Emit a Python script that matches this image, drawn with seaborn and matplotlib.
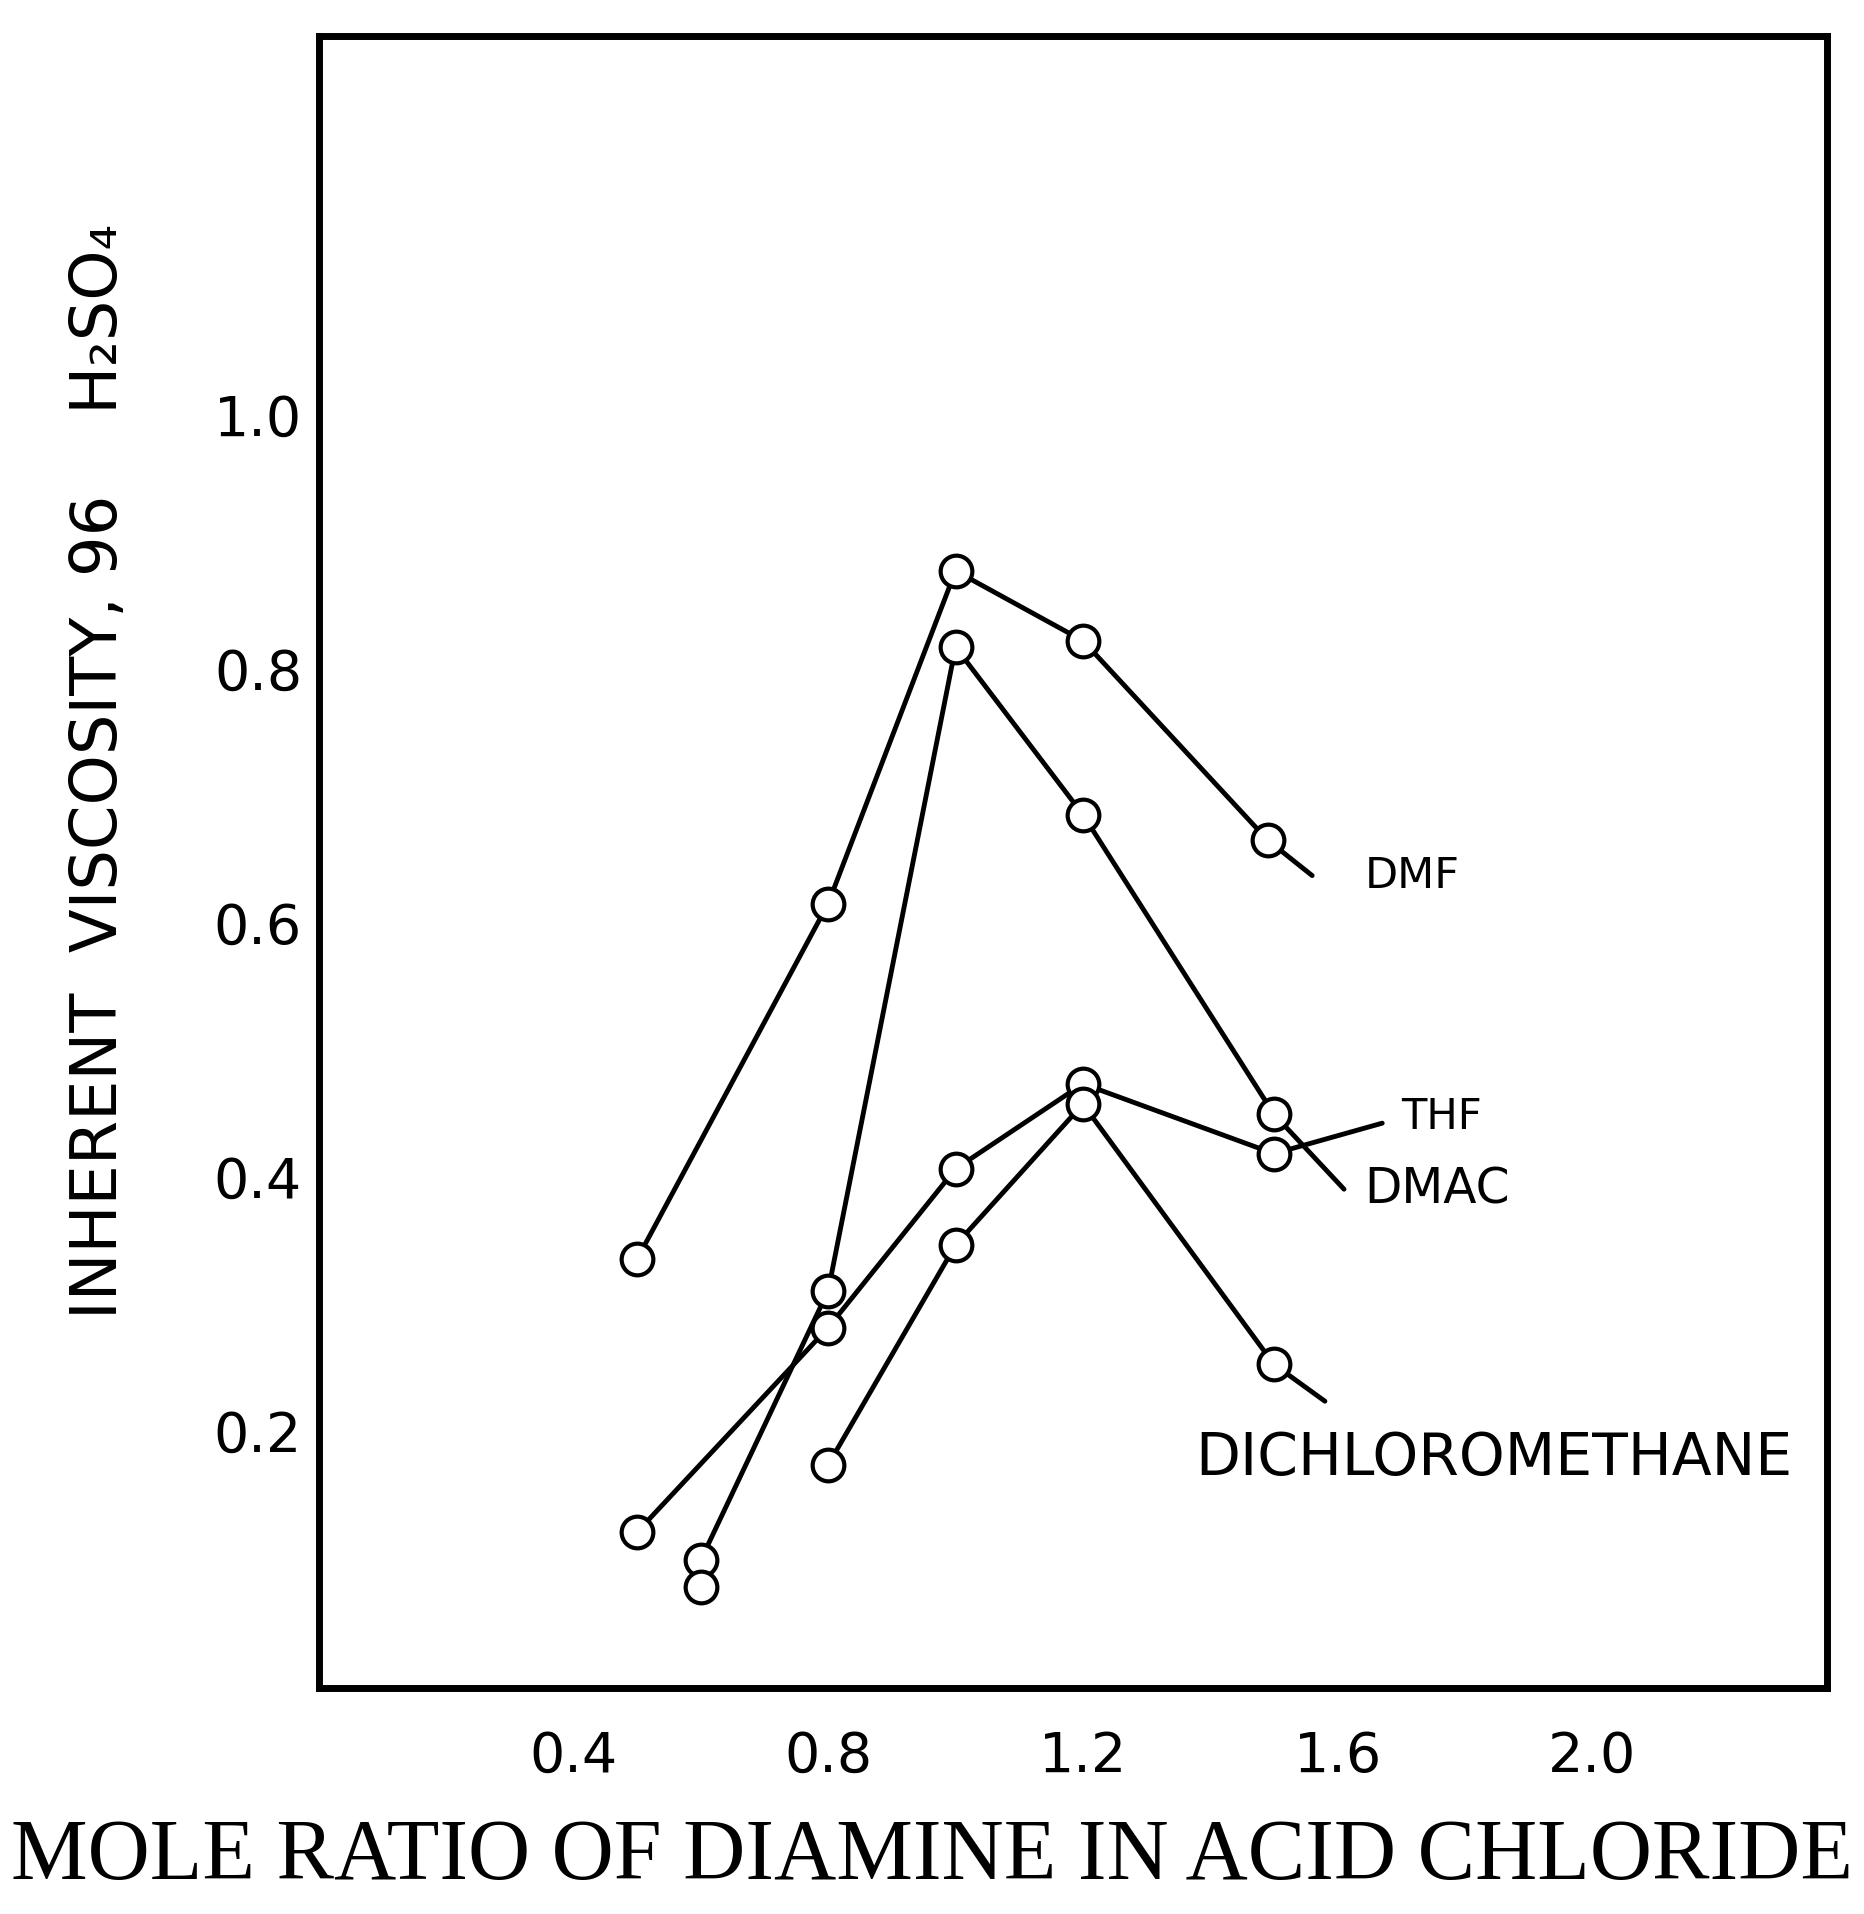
import matplotlib
matplotlib.use("Agg")
import matplotlib.pyplot as plt
import seaborn as sns
import pandas as pd

# ---- data ----
dmf_x = [0.5, 0.8, 1.0, 1.2, 1.49]
dmf_y = [0.335, 0.615, 0.877, 0.822, 0.665]
dmf_tail = (1.56, 0.637)

dmac_x = [0.6, 0.8, 1.0, 1.2, 1.5]
dmac_y = [0.098, 0.31, 0.817, 0.685, 0.449]
dmac_tail = (1.61, 0.39)

thf_x = [0.5, 0.8, 1.0, 1.2, 1.5]
thf_y = [0.12, 0.281, 0.406, 0.473, 0.418]
thf_tail = (1.67, 0.442)

dcm_x = [0.8, 1.0, 1.2, 1.5]
dcm_y = [0.173, 0.346, 0.457, 0.252]
dcm_tail = (1.58, 0.223)

extra_x = [0.6]
extra_y = [0.077]

series_names = ["DMF", "DMAC", "THF", "DICHLOROMETHANE"]
label_pos = {"DMF": (1.642, 0.637), "THF": (1.70, 0.447),
             "DMAC": (1.642, 0.39), "DICHLOROMETHANE": (1.377, 0.178)}
label_size = {"DMF": 31, "THF": 30, "DMAC": 35, "DICHLOROMETHANE": 42}

x_ticks = [0.4, 0.8, 1.2, 1.6, 2.0]
x_ticklabels = ["0.4", "0.8", "1.2", "1.6", "2.0"]
y_ticks = [0.2, 0.4, 0.6, 0.8, 1.0]
y_ticklabels = ["0.2", "0.4", "0.6", "0.8", "1.0"]

xlabel = "MOLE RATIO OF DIAMINE IN ACID CHLORIDE"
ylabel = "INHERENT  VISCOSITY, 96    H\u2082SO\u2084"

# ---- build tables ----
raw = {"DMF": (dmf_x, dmf_y, dmf_tail), "DMAC": (dmac_x, dmac_y, dmac_tail),
       "THF": (thf_x, thf_y, thf_tail), "DICHLOROMETHANE": (dcm_x, dcm_y, dcm_tail)}
line_rows, pt_rows = [], []
for name in series_names:
    xs, ys, tail = raw[name]
    for i, (a, b) in enumerate(zip(xs, ys)):
        line_rows.append({"series": name, "x": a, "y": b, "order": i})
        pt_rows.append({"series": name, "x": a, "y": b})
    line_rows.append({"series": name, "x": tail[0], "y": tail[1], "order": len(xs)})
for a, b in zip(extra_x, extra_y):
    pt_rows.append({"series": "extra", "x": a, "y": b})
lines_df = pd.DataFrame(line_rows)
pts_df = pd.DataFrame(pt_rows)

sns.set_style("white")
plt.rcParams["font.family"] = ["DejaVu Sans"]
plt.rcParams["text.color"] = "black"
plt.rcParams["xtick.color"] = "black"
plt.rcParams["ytick.color"] = "black"

fig = plt.figure(figsize=(18.64, 19.14), dpi=100)
ax = fig.add_axes([0.171, 0.118, 0.809, 0.863])

for name in series_names:
    sub = lines_df[lines_df["series"] == name]
    sns.lineplot(data=sub, x="x", y="y", sort=False, estimator=None,
                 color="black", linewidth=3.5, ax=ax, zorder=2)
sns.scatterplot(data=pts_df, x="x", y="y", marker="o", s=520,
                facecolor="white", edgecolor="black", linewidth=3.0,
                ax=ax, zorder=3, legend=False)

for name in series_names:
    lx, ly = label_pos[name]
    ax.text(lx, ly, name, fontsize=label_size[name], va="center", ha="left",
            color="black")

ax.set_xlim(0, 2.368)
ax.set_ylim(-0.003, 1.298)
ax.set_xticks(x_ticks)
ax.set_xticklabels(x_ticklabels)
ax.set_yticks(y_ticks)
ax.set_yticklabels(y_ticklabels)
ax.tick_params(axis="both", direction="in", length=24, width=3, color="black",
               labelsize=40, labelcolor="black")
ax.tick_params(axis="x", pad=30)
ax.tick_params(axis="y", pad=12)
ax.set_xlabel("")
ax.set_ylabel("")
for sp in ax.spines.values():
    sp.set_visible(True)
    sp.set_color("black")
    sp.set_linewidth(5)

fig.text(0.5, 0.029, xlabel, ha="center", va="center",
         fontsize=62, family=["Liberation Serif", "DejaVu Serif"], color="black")
fig.text(0.053, 0.597, ylabel, rotation=90, ha="center", va="center",
         fontsize=46, color="black")

fig.savefig("out.png", dpi=100, facecolor="white")
